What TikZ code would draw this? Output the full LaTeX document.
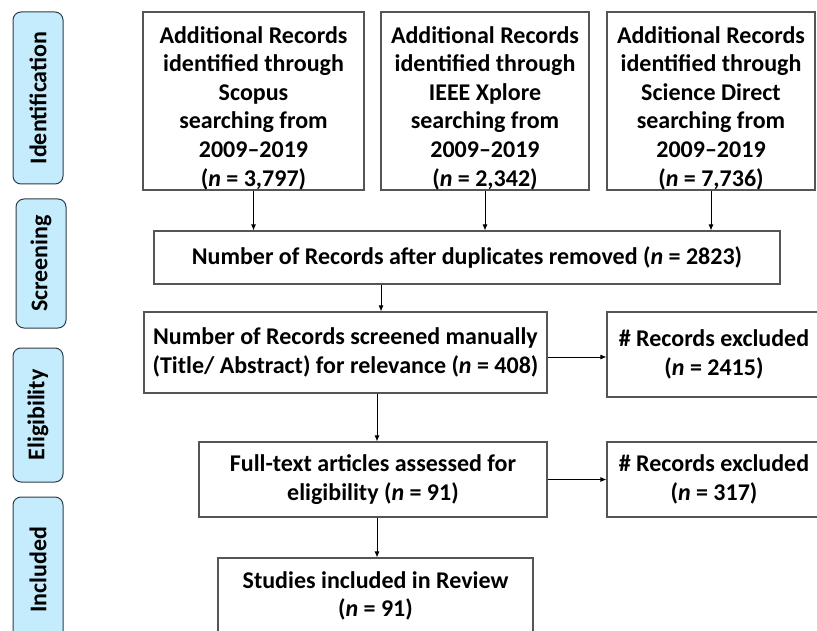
\documentclass[tikz,border=0pt]{standalone}
\usepackage{fontspec}
\setmainfont{Carlito}
\usetikzlibrary{arrows.meta}
\definecolor{lblue}{RGB}{197,236,252}
\definecolor{lborder}{RGB}{50,60,70}
\definecolor{bborder}{RGB}{85,85,85}
\begin{document}
\begin{tikzpicture}[x=1pt,y=-1pt,
  box/.style={draw=bborder, line width=1.2pt, fill=white, inner sep=0pt, align=center,
    font=\fontsize{24}{28.6}\selectfont\bfseries},
  stage/.style={draw=lborder, line width=1pt, fill=lblue, rounded corners=8pt, rotate=90,
    inner sep=0pt, font=\fontsize{24}{28}\selectfont\bfseries},
  arr/.style={draw=black, line width=0.8pt, -{Latex[length=6pt,width=5pt]}}]
\useasboundingbox (0,0) rectangle (817,631);

% stage labels
\node[stage, minimum width=172, minimum height=50] (s1) at (38,98) {Identification};
\node[stage, minimum width=129, minimum height=50] (s2) at (41,263.5) {Screening};
\node[stage, minimum width=134, minimum height=50] (s3) at (38,415) {Eligibility};
\node[stage, minimum width=146, minimum height=50] (s4) at (38,570) {Included};

% top boxes
\node[box, minimum width=221, minimum height=178] (b1) at (253.5,101)
  {\rule{0pt}{31pt}Additional Records\\identified through\\Scopus\\searching from\\2009--2019\\(\textit{n} = 3,797)};
\node[box, minimum width=208, minimum height=178] (b2) at (485,101)
  {\rule{0pt}{31pt}Additional Records\\identified through\\IEEE Xplore\\searching from\\2009--2019\\(\textit{n} = 2,342)};
\node[box, minimum width=208, minimum height=178] (b3) at (711,101)
  {\rule{0pt}{31pt}Additional Records\\identified through\\Science Direct\\searching from\\2009--2019\\(\textit{n} = 7,736)};

\node[box, minimum width=626, minimum height=53] (b4) at (467,257.5)
  {Number of Records after duplicates removed (\textit{n} = 2823)};

\node[box, minimum width=403, minimum height=81] (b5) at (345.5,352.5)
  {Number of Records screened manually\\(Title/ Abstract) for relevance (\textit{n} = 408)};
\node[box, minimum width=214, minimum height=85] (b6) at (714,354.5)
  {\# Records excluded\\(\textit{n} = 2415)};

\node[box, minimum width=348, minimum height=75] (b7) at (373,479.5)
  {Full-text articles assessed for\\eligibility (\textit{n} = 91)};
\node[box, minimum width=214, minimum height=75] (b8) at (714,479.5)
  {\# Records excluded\\(\textit{n} = 317)};

\node[box, minimum width=315, minimum height=76] (b9) at (375.5,596)
  {Studies included in Review\\(\textit{n} = 91)};

% connectors
\coordinate (cA) at (381,0);
\coordinate (cB) at (377,0);
\draw[arr] (b1.south) -- (b1.south |- b4.north);
\draw[arr] (b2.south) -- (b2.south |- b4.north);
\draw[arr] (b3.south) -- (b3.south |- b4.north);
\draw[arr] (b4.south -| cA) -- (b5.north -| cA);
\draw[arr] ([yshift=-4.5pt]b5.east) -- ([yshift=-4.5pt]b5.east -| b6.west);
\draw[arr] (b5.south -| cB) -- (b7.north -| cB);
\draw[arr] (b7.east) -- (b7.east -| b8.west);
\draw[arr] (b7.south -| cB) -- (b9.north -| cB);
\end{tikzpicture}
\end{document}
